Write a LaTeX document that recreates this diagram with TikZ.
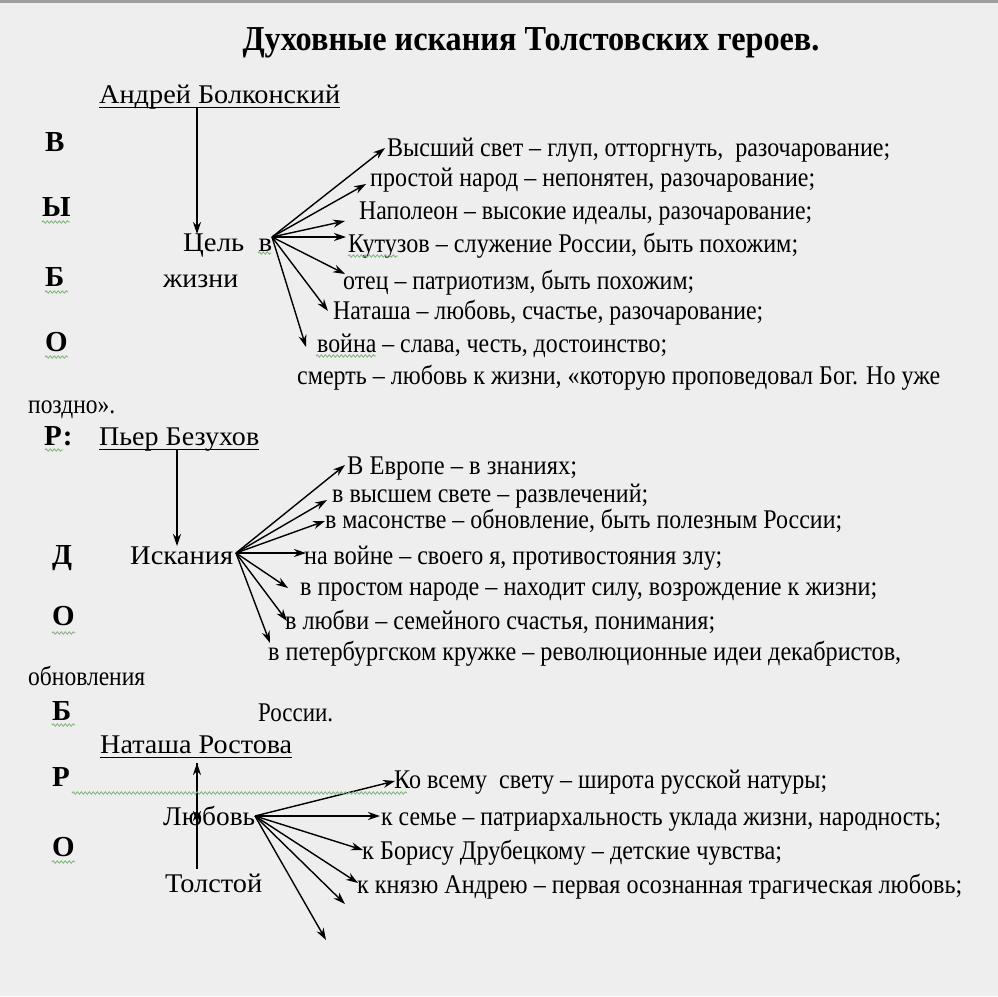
\documentclass[tikz,border=0pt]{standalone}
\usepackage{fontspec}
\setmainfont{Liberation Serif}
\newfontfamily\tnr{Liberation Serif}
\usetikzlibrary{arrows.meta,decorations.pathmorphing}
\definecolor{bgc}{HTML}{EFEEEE}
\definecolor{wavyc}{HTML}{7FB07A}
\newcommand{\fw}[2]{\resizebox{#1pt}{\height}{#2}}
\tikzset{
  x=1pt,y=-1pt,
  txt/.style={anchor=west,inner sep=0pt,yshift=-6pt,font=\tnr\fontsize{27}{30}\selectfont,text height=0.68em,text depth=0.22em},
  big/.style={txt,font=\tnr\fontsize{29}{30}\selectfont\bfseries},
  arr/.style={line width=1.4pt,-{Stealth[length=12pt,width=8pt]}},
  uline/.style={line width=1.6pt},
  wavy/.style={wavyc,line width=0.8pt,decorate,decoration={snake,amplitude=1.2pt,segment length=4pt}}
}
\begin{document}
\begin{tikzpicture}
\useasboundingbox (0,0) rectangle (998,996);
\fill[bgc] (0,0) rectangle (998,996);
\fill[gray!75] (0,0) rectangle (998,3);
% title
\node[anchor=center,inner sep=0pt,font=\tnr\fontsize{35}{38}\selectfont\bfseries] (title) at (531,43) {\fw{577}{Духовные искания Толстовских героев.}};
% left vertical word
\node[big] (l1) at (45,143) {В};
\node[big] (l2) at (42,208) {Ы};
\node[big] (l3) at (45,278) {Б};
\node[big] (l4) at (45,343) {О};
\node[big] (l5) at (44,437) {Р:};
\node[big] (l6) at (52,556) {Д};
\node[big] (l7) at (52,617) {О};
\node[big] (l8) at (52,712) {Б};
\node[big] (l9) at (52,778) {Р};
\node[big] (l10) at (52,848) {О};
% ---------- Andrei
\node[txt] (andrei) at (99,95) {\fw{241}{Андрей Болконский}};
\draw[uline] ([yshift=-4pt]andrei.base west) -- ([yshift=-4pt]andrei.base east);
\node[txt] (cel) at (183,243) {\fw{89}{Цель\ \ в}};
\node[txt] (zhizni) at (163,279) {\fw{75}{жизни}};
\coordinate (a0) at (197,108);
\coordinate (a1) at (197,234);
\draw[arr] (a0) -- (a1);
\node[txt] (h1) at (387,148) {\fw{503}{Высший свет – глуп, отторгнуть,\ \ разочарование;}};
\node[txt] (h2) at (370,178) {\fw{445}{простой народ – непонятен, разочарование;}};
\node[txt] (h3) at (359,211) {\fw{453}{Наполеон – высокие идеалы, разочарование;}};
\node[txt] (h4) at (348,244) {\fw{450}{Кутузов – служение России, быть похожим;}};
\node[txt] (h5) at (343,281) {\fw{351}{отец – патриотизм, быть похожим;}};
\node[txt] (h6) at (333,311) {\fw{430}{Наташа – любовь, счастье, разочарование;}};
\node[txt] (h7) at (317,344) {\fw{350}{война – слава, честь, достоинство;}};
\node[txt] (h8) at (297,376) {\fw{643}{смерть – любовь к жизни, «которую проповедовал Бог. Но уже}};
\node[txt] (pozdno) at (28,405) {\fw{87}{поздно».}};
\coordinate (o1) at (272,237);
\coordinate (t11) at (385,148);
\coordinate (t12) at (366,184);
\coordinate (t13) at (345,221);
\coordinate (t14) at (346,237);
\coordinate (t15) at (345,274);
\coordinate (t16) at (328,311);
\coordinate (t17) at (306,347);
\foreach \t in {t11,t12,t13,t14,t15,t16,t17} \draw[arr] (o1) -- (\t);
% ---------- Pierre
\node[txt] (pierre) at (99,437) {\fw{160}{Пьер Безухов}};
\draw[uline] ([yshift=-4pt]pierre.base west) -- ([yshift=-4pt]pierre.base east);
\node[txt] (isk) at (130,556) {\fw{103}{Искания}};
\coordinate (b0) at (177,449);
\coordinate (b1) at (177,546);
\draw[arr] (b0) -- (b1);
\node[txt] (p1) at (347,466) {\fw{230}{В Европе – в знаниях;}};
\node[txt] (p2) at (332,494) {\fw{316}{в высшем свете – развлечений;}};
\node[txt] (p3) at (325,520) {\fw{517}{в масонстве – обновление, быть полезным России;}};
\node[txt] (p4) at (304,556) {\fw{418}{на войне – своего я, противостояния злу;}};
\node[txt] (p5) at (300,587) {\fw{577}{в простом народе – находит силу, возрождение к жизни;}};
\node[txt] (p6) at (285,621) {\fw{430}{в любви – семейного счастья, понимания;}};
\node[txt] (p7) at (268,652) {\fw{633}{в петербургском кружке – революционные идеи декабристов,}};
\node[txt] (obnov) at (28,677) {\fw{117}{обновления}};
\node[txt] (rossii) at (258,713) {\fw{75}{России.}};
\coordinate (o2) at (236,553);
\coordinate (t21) at (345,465);
\coordinate (t22) at (327,500);
\coordinate (t23) at (325,521);
\coordinate (t24) at (306,553);
\coordinate (t25) at (288,588);
\coordinate (t26) at (287,621);
\coordinate (t27) at (270,643);
\foreach \t in {t21,t22,t23,t24,t25,t26,t27} \draw[arr] (o2) -- (\t);
% ---------- Natasha
\node[txt] (natasha) at (100,745) {\fw{192}{Наташа Ростова}};
\draw[uline] ([yshift=-4pt]natasha.base west) -- ([yshift=-4pt]natasha.base east);
\node[txt] (lyub) at (163,817) {\fw{92}{Любовь}};
\node[txt] (tolst) at (165,884) {\fw{97}{Толстой}};
\coordinate (c0) at (197,869);
\coordinate (c1) at (197,763);
\coordinate (c2) at (197,823);
\coordinate (c3) at (197,809);
\draw[arr] (c0) -- (c1);
\draw[arr] (c1) -- (c2);
\draw[arr] (c0) -- (c3);
\node[txt] (n1) at (394,780) {\fw{433}{Ко всему\ \ свету – широта русской натуры;}};
\node[txt] (n2) at (381,817) {\fw{560}{к семье – патриархальность уклада жизни, народность;}};
\node[txt] (n3) at (362,851) {\fw{420}{к Борису Друбецкому – детские чувства;}};
\node[txt] (n4) at (357,885) {\fw{605}{к князю Андрею – первая осознанная трагическая любовь;}};
\coordinate (o3) at (255,816);
\coordinate (t31) at (395,781);
\coordinate (t32) at (380,816);
\coordinate (t33) at (363,850);
\coordinate (t34) at (358,883);
\coordinate (t35) at (345,904);
\coordinate (t36) at (326,940);
\foreach \t in {t31,t32,t33,t34,t35,t36} \draw[arr] (o3) -- (\t);
% spell-check wavy lines
\draw[wavy] (42,222) -- (70,222);
\draw[wavy] (45,292) -- (68,292);
\draw[wavy] (45,357) -- (68,357);
\draw[wavy] (45,450) -- (63,450);
\draw[wavy] (52,633) -- (75,633);
\draw[wavy] (52,725) -- (75,725);
\draw[wavy] (52,862) -- (75,862);
\draw[wavy] (72,793) -- (407,793);
\draw[wavy] (348,256) -- (398,256);
\draw[wavy] (316,356) -- (376,356);
\draw[wavy] (258,253) -- (271,253);
\end{tikzpicture}
\end{document}
